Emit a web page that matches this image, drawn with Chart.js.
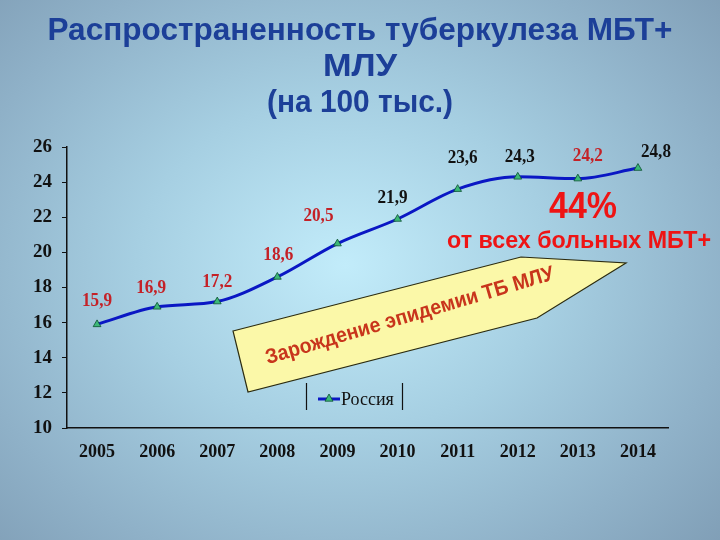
<!DOCTYPE html>
<html><head><meta charset="utf-8">
<script src="https://cdn.jsdelivr.net/npm/chart.js@4/dist/chart.umd.min.js"></script>
<style>
html,body{margin:0;padding:0;}
#wrap{position:relative;width:720px;height:540px;background:radial-gradient(ellipse 520px 420px at 345px 265px,#c2ecfa 0%,#a6cfe2 40%,#8fb1c8 75%,#7f9db5 100%);}
canvas{position:absolute;left:0;top:0;}
</style></head>
<body><div id="wrap"><canvas id="c" width="720" height="540"></canvas></div>
<script>
const categories = ['2005','2006','2007','2008','2009','2010','2011','2012','2013','2014'];
const russia = [15.9,16.9,17.2,18.6,20.5,21.9,23.6,24.3,24.2,24.8];
const valueLabels = ['15,9','16,9','17,2','18,6','20,5','21,9','23,6','24,3','24,2','24,8'];
const labelIsRed = [true,true,true,true,true,false,false,false,true,false];
const yTicks = [10,12,14,16,18,20,22,24,26];
const titleLines = ['Распространенность туберкулеза МБТ+','МЛУ','(на 100 тыс.)'];
const seriesName = 'Россия';
const noteBig = '44%';
const noteSmall = 'от всех больных МБТ+';
const arrowText = 'Зарождение эпидемии ТБ МЛУ';

const labelOffsets = [[0,-23],[-6,-18],[0,-19],[1,-22],[-19,-27],[-5,-21],[5,-31],[2,-20],[10,-22],[18,-16]];

function triangle(ctx,x,y,r){
  ctx.beginPath();ctx.moveTo(x,y-r);ctx.lineTo(x+r,y+r*0.8);ctx.lineTo(x-r,y+r*0.8);ctx.closePath();
}
function fitText(ctx,t,x,y,w){
  const m=ctx.measureText(t).width;
  ctx.save();ctx.translate(x,y);ctx.scale(w/m,1);ctx.fillText(t,0,0);ctx.restore();
}

const deco = {
  id:'deco',
  beforeDatasetsDraw(chart){
    const ctx = chart.ctx;
    ctx.save();
    ctx.fillStyle = '#1c3f98';
    ctx.textAlign='center';ctx.textBaseline='middle';
    const ys=[31,67,103];
    const widths=[625,74,186];
    ctx.font = 'bold 31px "Liberation Sans",Arial,sans-serif';
    titleLines.forEach((t,i)=>fitText(ctx,t,360,ys[i],widths[i]));
    ctx.restore();
  },
  afterDatasetsDraw(chart){
    const ctx = chart.ctx;
    const meta = chart.getDatasetMeta(0);
    ctx.save();
    // arrow
    ctx.beginPath();
    ctx.moveTo(233,331);ctx.lineTo(521,257);ctx.lineTo(626,263);ctx.lineTo(537,318);ctx.lineTo(248,392);ctx.closePath();
    ctx.fillStyle='#fbf8a8';ctx.fill();
    ctx.lineWidth=1.2;ctx.strokeStyle='#2b2b10';ctx.stroke();
    ctx.save();
    ctx.translate(410,316);ctx.rotate(-16.5*Math.PI/180);
    ctx.fillStyle='#c8351c';ctx.font='bold 21px "Liberation Sans",Arial,sans-serif';
    ctx.textAlign='center';ctx.textBaseline='middle';
    fitText(ctx,arrowText,0,0,300);
    ctx.restore();
    // data labels
    ctx.font='bold 18px "Liberation Serif","Times New Roman",serif';
    ctx.textAlign='center';ctx.textBaseline='middle';
    meta.data.forEach((p,i)=>{
      ctx.fillStyle = labelIsRed[i]?'#c42127':'#111111';
      fitText(ctx,valueLabels[i],p.x+labelOffsets[i][0],p.y+labelOffsets[i][1],30);
    });
    // notes
    ctx.fillStyle='#ee1414';
    ctx.font='bold 36px "Liberation Sans",Arial,sans-serif';
    fitText(ctx,noteBig,583,208,68);
    ctx.font='bold 23px "Liberation Sans",Arial,sans-serif';
    fitText(ctx,noteSmall,579,242,264);
    // legend
    ctx.strokeStyle='#111';ctx.lineWidth=1.2;
    ctx.beginPath();ctx.moveTo(306.5,383);ctx.lineTo(306.5,410);ctx.moveTo(402.5,383);ctx.lineTo(402.5,410);ctx.stroke();
    ctx.strokeStyle='#0a17c4';ctx.lineWidth=3;
    ctx.beginPath();ctx.moveTo(318,399);ctx.lineTo(340,399);ctx.stroke();
    triangle(ctx,329,398,4);ctx.fillStyle='#3cb878';ctx.fill();ctx.lineWidth=0.8;ctx.strokeStyle='#0b5030';ctx.stroke();
    ctx.fillStyle='#111';ctx.font='18px "Liberation Serif","Times New Roman",serif';
    ctx.textAlign='left';ctx.fillText(seriesName,341,400);
    ctx.restore();
  }
};

new Chart(document.getElementById('c'),{
  type:'line',
  data:{labels:categories,datasets:[{
    label:seriesName,data:russia,
    borderColor:'#0a17c4',borderWidth:3,tension:0.4,cubicInterpolationMode:'monotone',
    pointStyle:'triangle',pointRadius:4.5,pointBackgroundColor:'#3cb878',pointBorderColor:'#0b5030',pointBorderWidth:0.8
  }]},
  options:{
    responsive:false,animation:false,
    layout:{padding:{left:0,top:147,right:52,bottom:0}},
    plugins:{legend:{display:false},tooltip:{enabled:false},title:{display:false}},
    scales:{
      x:{offset:true,
        grid:{display:false,drawTicks:false},
        border:{display:true,color:'#111',width:1.5},
        ticks:{font:{family:'"Liberation Serif","Times New Roman",serif',size:18,weight:'bold'},color:'#111',padding:14,maxRotation:0,autoSkip:false},
        afterFit(s){s.height=112;}
      },
      y:{min:10,max:26,
        afterBuildTicks(s){s.ticks=yTicks.map(v=>({value:v}));},
        grid:{drawOnChartArea:false,drawTicks:true,tickLength:5,color:'#111'},
        border:{display:true,color:'#111',width:1.5},
        ticks:{font:{family:'"Liberation Serif","Times New Roman",serif',size:19,weight:'bold'},color:'#111',padding:10},
        afterFit(s){s.width=67;}
      }
    }
  },
  plugins:[deco]
});
</script></body></html>
